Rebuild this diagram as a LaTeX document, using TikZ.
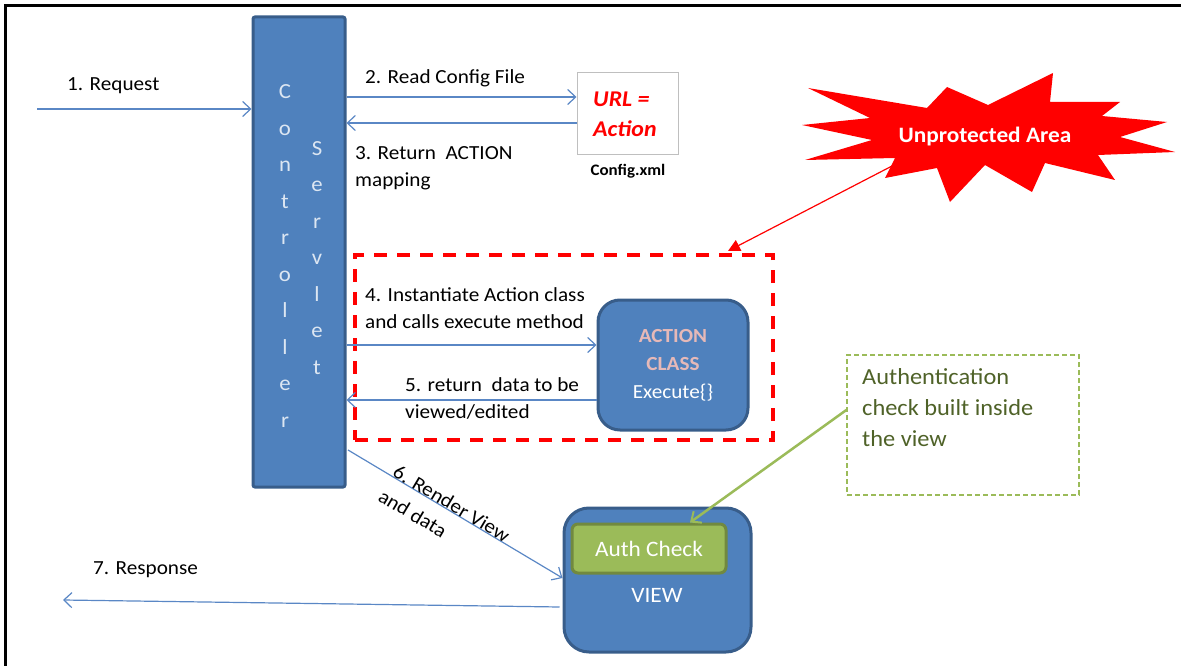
\documentclass[tikz,border=0pt]{standalone}
\usepackage{fontspec}
\setmainfont{Carlito}[FakeStretch=1.06]
\usetikzlibrary{arrows.meta}
\definecolor{bluefill}{HTML}{4F81BD}
\definecolor{blueedge}{HTML}{385D8A}
\definecolor{linecol}{HTML}{5A87C5}
\definecolor{greenfill}{HTML}{9BBB59}
\definecolor{greenedge}{HTML}{71893F}
\definecolor{notetext}{HTML}{4F6228}
\definecolor{pinktext}{HTML}{E6B9B8}
\definecolor{lettercol}{HTML}{DCE6F2}
\definecolor{cfgedge}{HTML}{BFBFBF}
\tikzset{
  arr/.style={draw=linecol, line width=1.2pt, -{Straight Barb[length=8pt,width=15pt,line width=1.2pt]}},
  lbl/.style={font=\fontsize{20}{27}\selectfont, text=black, inner sep=0pt, align=left},
  bluebox/.style={draw=blueedge, fill=bluefill, line width=3pt, inner sep=0pt},
  letters/.style={font=\fontsize{21.5}{36.5}\selectfont, text=lettercol, align=center, inner sep=0pt},
}
\begin{document}
\begin{tikzpicture}[x=1pt,y=-1pt]
\useasboundingbox (0,0) rectangle (1181,666);
% frame
\draw[black, line width=3pt] (5,666) -- (5,6) -- (1181,6);

% controller servlet
\node[bluebox, rounded corners=2pt, minimum width=92pt, minimum height=470pt] (ctrl) at (299,252) {};
\node[letters] (ctrltxt) at (285,256) {C\\o\\n\\t\\r\\o\\l\\l\\e\\r};
\node[letters] (servtxt) at (317,258) {S\\e\\r\\v\\l\\e\\t};

% request
\coordinate (reqstart) at (37,109);
\draw[arr] (reqstart) -- (ctrl.west |- reqstart);
\node[lbl, anchor=west] (reqlbl) at (67,86) {1. Request};

% config
\node[draw=cfgedge, line width=1pt, fill=white, minimum width=101pt, minimum height=82pt] (cfg) at (627.5,114) {};
\node[font=\fontsize{22.5}{30}\selectfont\bfseries\itshape, text=red, align=left, anchor=west, inner sep=0pt] (cfgtxt) at (593,114) {URL =\\Action};
\node[font=\fontsize{16}{18}\selectfont\bfseries, inner sep=0pt] (cfgname) at (628,171) {Config.xml};
\draw[arr] (ctrl.east |- 0,97) -- (cfg.west |- 0,97);
\draw[arr] (cfg.west |- 0,123) -- (ctrl.east |- 0,123);
\node[lbl, anchor=west] (l2) at (365,78) {2. Read Config File};
\node[lbl, anchor=west] (l3) at (355,168.5) {3. Return\ \ ACTION\\mapping};

% unprotected zone
\node[draw=red, line width=4pt, dash pattern=on 13pt off 10pt, minimum width=418pt, minimum height=185pt] (zone) at (564,347.5) {};

% action class
\node[bluebox, rounded corners=22pt, minimum width=150pt, minimum height=130pt, align=center, font=\fontsize{20}{28}\selectfont, text=white] (act) at (673,365)
  {{\bfseries\color{pinktext}ACTION}\\{\bfseries\color{pinktext}CLASS}\\Execute\{\}};
\draw[arr] (ctrl.east |- 0,345) -- (act.west |- 0,345);
\draw[arr] (act.west |- 0,400) -- (ctrl.east |- 0,400);
\node[lbl, anchor=west] (l4) at (365,308.5) {4. Instantiate Action class\\and calls execute method};
\node[lbl, anchor=west] (l5) at (405,398.5) {5. return\ \ data to be\\viewed/edited};

% view
\node[bluebox, rounded corners=25pt, minimum width=187pt, minimum height=144pt] (view) at (657.5,580) {};
\node[draw=greenedge, fill=greenfill, line width=3pt, rounded corners=6pt, minimum width=154pt, minimum height=49pt, font=\fontsize{22}{25}\selectfont, text=white] (auth) at (649,548.5) {Auth Check};
\node[font=\fontsize{22}{25}\selectfont, text=white, inner sep=0pt] (viewtxt) at (657,595) {VIEW};

\coordinate (r6start) at (348,450);
\draw[arr] (r6start) -- (view.west |- 0,578)
  node[pos=0.466, sloped, yshift=-7pt, lbl, font=\fontsize{20}{28.5}\selectfont] (l6) {6. Render View\\and data};

\coordinate (respend) at (63,600);
\draw[arr] ([xshift=-3pt]view.west |- 0,607) -- (respend);
\node[lbl, anchor=west] (l7) at (93,570) {7. Response};

% starburst
\fill[red] (808,88) -- (927,108) -- (947,87) -- (988,105) -- (1053,73) -- (1050,102)
  -- (1120,102) -- (1102,116) -- (1167,122) -- (1120,137) -- (1175,152) -- (1098,155)
  -- (1115,180) -- (1045,163) -- (1032,192) -- (985,165) -- (950,202) -- (937,168)
  -- (885,178) -- (895,158) -- (805,160) -- (872,140) -- (802,125) -- (870,118) -- cycle;
\node[font=\fontsize{22}{25}\selectfont\bfseries, text=white, inner sep=0pt] (star) at (985,137) {Unprotected Area};
\coordinate (starlow) at (892,166);
\coordinate (zonetip) at (728,251);
\draw[red, line width=1.2pt, -{Triangle[length=12pt,width=12pt]}] (starlow) -- (zonetip);

% note
\node[draw=greenfill, line width=1.3pt, dash pattern=on 5pt off 3pt, minimum width=232pt, minimum height=140pt] (note) at (963,425) {};
\node[font=\fontsize{23}{31}\selectfont, text=notetext, align=left, anchor=north west, inner sep=0pt] (notetxt) at (862,368) {Authentication\\check built inside\\the view};
\draw[greenfill, line width=2.5pt, -{Straight Barb[length=8pt,width=14pt,line width=2pt]}] (note.west |- 0,410) -- (auth.north -| 690,0);
\end{tikzpicture}
\end{document}
